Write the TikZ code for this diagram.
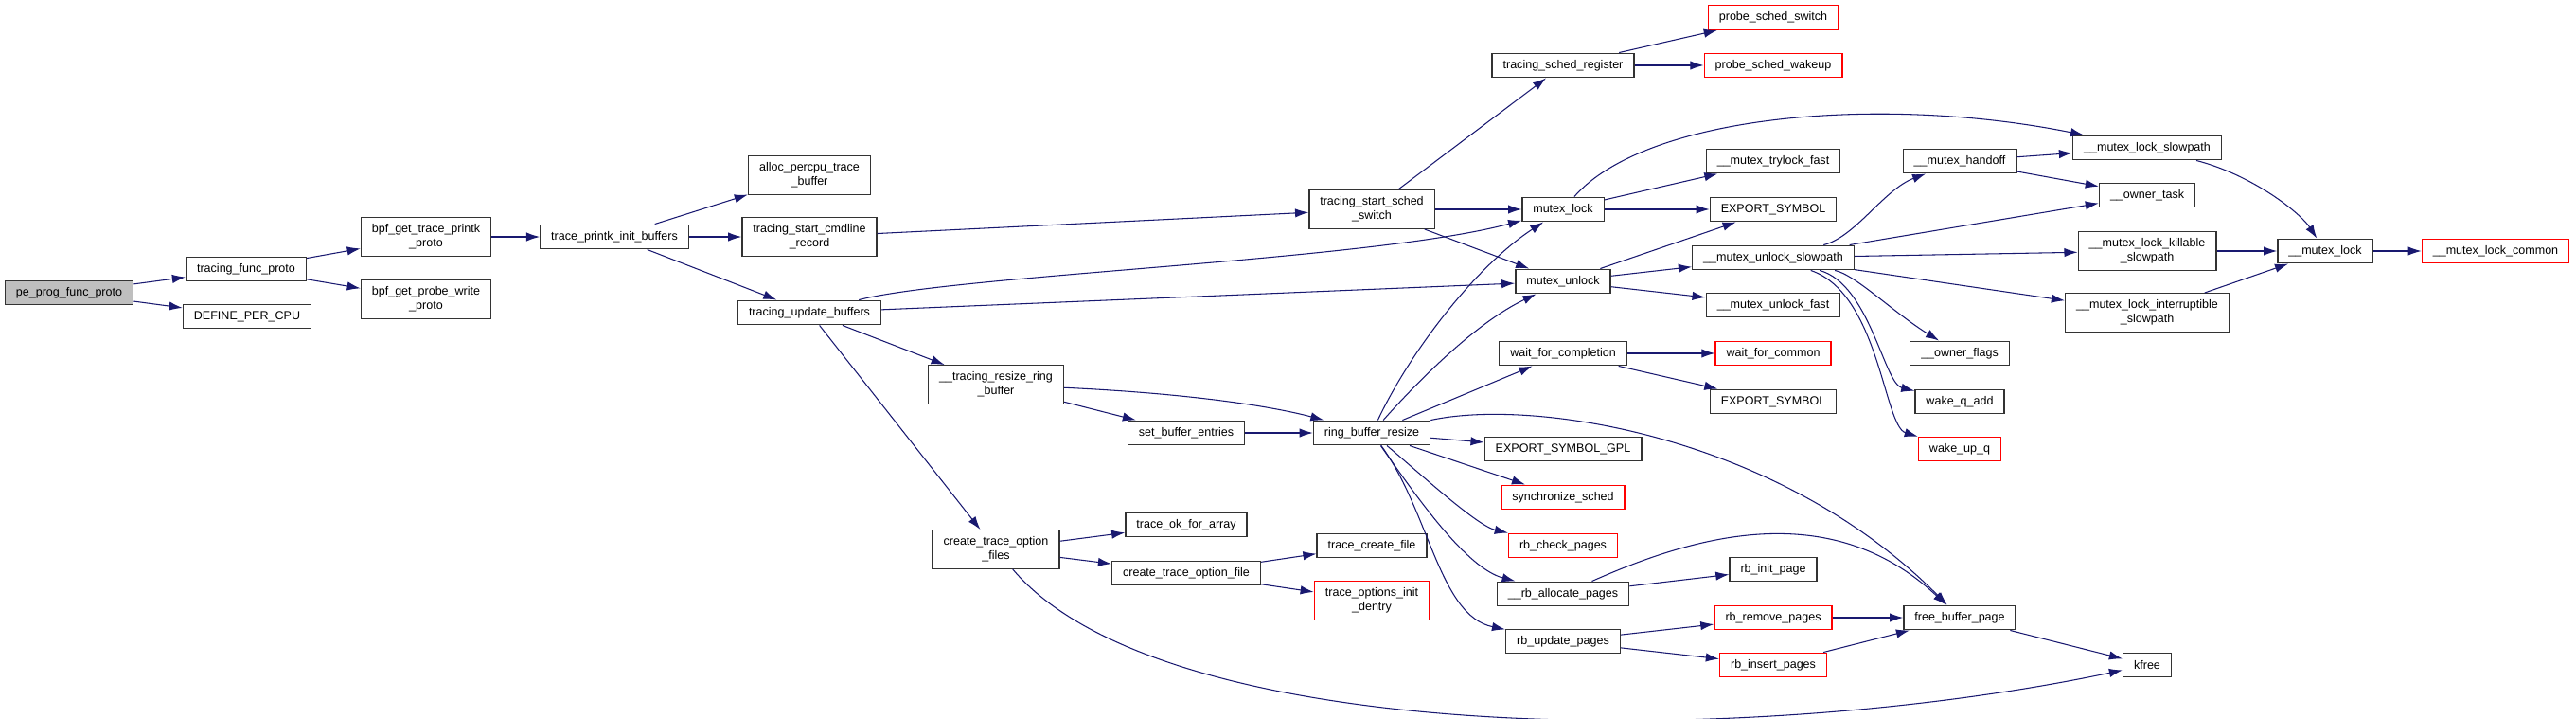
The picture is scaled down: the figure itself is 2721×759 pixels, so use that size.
\documentclass[tikz,border=0pt]{standalone}
\usepackage{fontspec}
\setmainfont{Liberation Sans}
\usetikzlibrary{arrows.meta}
\definecolor{edgeblue}{RGB}{25,25,112}
\newcommand\fnsize{\fontsize{10.7pt}{12.8pt}\selectfont}

\begin{document}
\begin{tikzpicture}[x=0.03cm, y=-0.03cm,
        fn/.style={rectangle, draw=black!80, line width=1.2pt, fill=white, font=\fnsize,
                   inner xsep=9.8pt, inner ysep=0pt, minimum height=21.8pt, align=center},
        two/.style={minimum height=34.6pt},
        redbox/.style={draw=red},
        root/.style={fill=black!25},
        call/.style={draw=edgeblue, line width=0.9pt, -{Latex[length=12pt,width=8pt]}}]
        \useasboundingbox (0,0) rectangle (2721,759);

        % Define nodes
        \node[fn, root]         (pe)    at (73,309)   {pe\_prog\_func\_proto};
        \node[fn]               (tfp)   at (260,284)  {tracing\_func\_proto};
        \node[fn]               (dpc)   at (261,334)  {DEFINE\_PER\_CPU};
        \node[fn, two]          (gtp)   at (450,250)  {bpf\_get\_trace\_printk\\\_proto};
        \node[fn, two]          (gpw)   at (450,316)  {bpf\_get\_probe\_write\\\_proto};
        \node[fn]               (tpib)  at (649,250)  {trace\_printk\_init\_buffers};
        \node[fn, two]          (apt)   at (855,185)  {alloc\_percpu\_trace\\\_buffer};
        \node[fn, two]          (tscr)  at (855,250)  {tracing\_start\_cmdline\\\_record};
        \node[fn]               (tub)   at (855,330)  {tracing\_update\_buffers};
        \node[fn, two]          (trrb)  at (1052,406) {\_\_tracing\_resize\_ring\\\_buffer};
        \node[fn, two]          (ctofs) at (1052,580) {create\_trace\_option\\\_files};
        \node[fn]               (sbe)   at (1253,457) {set\_buffer\_entries};
        \node[fn]               (tofa)  at (1253,554) {trace\_ok\_for\_array};
        \node[fn]               (ctof)  at (1253,605) {create\_trace\_option\_file};
        \node[fn, two]          (tsss)  at (1449,221) {tracing\_start\_sched\\\_switch};
        \node[fn]               (rbr)   at (1449,457) {ring\_buffer\_resize};
        \node[fn]               (tcf)   at (1449,576) {trace\_create\_file};
        \node[fn, two, redbox]  (toid)  at (1449,634) {trace\_options\_init\\\_dentry};
        \node[fn]               (tsr)   at (1651,69)  {tracing\_sched\_register};
        \node[fn]               (mlock) at (1651,221) {mutex\_lock};
        \node[fn]               (munlock) at (1651,297) {mutex\_unlock};
        \node[fn]               (wfc)   at (1651,373) {wait\_for\_completion};
        \node[fn]               (esgpl) at (1651,474) {EXPORT\_SYMBOL\_GPL};
        \node[fn, redbox]       (ss)    at (1651,525) {synchronize\_sched};
        \node[fn, redbox]       (rcp)   at (1651,576) {rb\_check\_pages};
        \node[fn]               (rap)   at (1651,627) {\_\_rb\_allocate\_pages};
        \node[fn]               (rup)   at (1651,677) {rb\_update\_pages};
        \node[fn, redbox]       (pss)   at (1873,18.5) {probe\_sched\_switch};
        \node[fn, redbox]       (psw)   at (1873,69)  {probe\_sched\_wakeup};
        \node[fn]               (mtf)   at (1873,170) {\_\_mutex\_trylock\_fast};
        \node[fn]               (esa)   at (1873,221) {EXPORT\_SYMBOL};
        \node[fn]               (mus)   at (1873,272) {\_\_mutex\_unlock\_slowpath};
        \node[fn]               (muf)   at (1873,322) {\_\_mutex\_unlock\_fast};
        \node[fn, redbox]       (wfcm)  at (1873,373) {wait\_for\_common};
        \node[fn]               (esb)   at (1873,424) {EXPORT\_SYMBOL};
        \node[fn]               (rip)   at (1873,601) {rb\_init\_page};
        \node[fn, redbox]       (rrp)   at (1873,652) {rb\_remove\_pages};
        \node[fn, redbox]       (rinp)  at (1873,702) {rb\_insert\_pages};
        \node[fn]               (mh)    at (2070,170) {\_\_mutex\_handoff};
        \node[fn]               (of)    at (2070,373) {\_\_owner\_flags};
        \node[fn]               (wqa)   at (2070,424) {wake\_q\_add};
        \node[fn, redbox]       (wuq)   at (2070,474) {wake\_up\_q};
        \node[fn]               (fbp)   at (2070,652) {free\_buffer\_page};
        \node[fn]               (mls)   at (2268,156) {\_\_mutex\_lock\_slowpath};
        \node[fn]               (ot)    at (2268,206) {\_\_owner\_task};
        \node[fn, two]          (mlk)   at (2268,265) {\_\_mutex\_lock\_killable\\\_slowpath};
        \node[fn, two]          (mli)   at (2268,330) {\_\_mutex\_lock\_interruptible\\\_slowpath};
        \node[fn]               (kf)    at (2268,702) {kfree};
        \node[fn]               (ml)    at (2456,265) {\_\_mutex\_lock};
        \node[fn, redbox]       (mlc)   at (2636,265) {\_\_mutex\_lock\_common};

        % Draw edges
        \draw[call] (pe) -- (tfp);
        \draw[call] (pe) -- (dpc);
        \draw[call] (tfp) -- (gtp);
        \draw[call] (tfp) -- (gpw);
        \draw[call] (gtp) -- (tpib);
        \draw[call] (tpib) -- (apt);
        \draw[call] (tpib) -- (tscr);
        \draw[call] (tpib) -- (tub);
        \draw[call] (tscr) -- (tsss);
        \draw[call] (tub) .. controls (1010,290) and (1450,275) .. (mlock);
        \draw[call] (tub) -- (munlock);
        \draw[call] (tub) -- (trrb);
        \draw[call] (tub) -- (ctofs);
        \draw[call] (tsss) -- (tsr);
        \draw[call] (tsss) -- (mlock);
        \draw[call] (tsss) -- (munlock);
        \draw[call] (tsr) -- (pss);
        \draw[call] (tsr) -- (psw);
        \draw[call] (mlock) .. controls (1740,120) and (1990,100) .. (mls);
        \draw[call] (mlock) -- (mtf);
        \draw[call] (mlock) -- (esa);
        \draw[call] (munlock) -- (esa);
        \draw[call] (munlock) -- (mus);
        \draw[call] (munlock) -- (muf);
        \draw[call] (mus) .. controls (1960,250) and (1990,200) .. (mh);
        \draw[call] (mus) -- (ot);
        \draw[call] (mus) -- (mlk);
        \draw[call] (mus) -- (mli);
        \draw[call] (mus) .. controls (1960,290) and (2000,330) .. (of);
        \draw[call] (mus) .. controls (1975,300) and (1990,405) .. (wqa);
        \draw[call] (mus) .. controls (1985,310) and (1990,450) .. (wuq);
        \draw[call] (mh) -- (mls);
        \draw[call] (mh) -- (ot);
        \draw[call] (mls) .. controls (2380,185) and (2430,225) .. (ml);
        \draw[call] (mlk) -- (ml);
        \draw[call] (mli) -- (ml);
        \draw[call] (ml) -- (mlc);
        \draw[call] (trrb) -- (sbe);
        \draw[call] (trrb) .. controls (1250,415) and (1340,428) .. (rbr);
        \draw[call] (sbe) -- (rbr);
        \draw[call] (rbr) .. controls (1490,370) and (1560,280) .. (mlock);
        \draw[call] (rbr) .. controls (1500,400) and (1560,340) .. (munlock);
        \draw[call] (rbr) -- (wfc);
        \draw[call] (rbr) .. controls (1620,420) and (1880,460) .. (fbp);
        \draw[call] (rbr) -- (esgpl);
        \draw[call] (rbr) -- (ss);
        \draw[call] (rbr) .. controls (1500,500) and (1560,555) .. (rcp);
        \draw[call] (rbr) .. controls (1500,530) and (1550,600) .. (rap);
        \draw[call] (rbr) .. controls (1510,540) and (1520,650) .. (rup);
        \draw[call] (wfc) -- (wfcm);
        \draw[call] (wfc) -- (esb);
        \draw[call] (rap) -- (rip);
        \draw[call] (rap) .. controls (1780,570) and (1930,520) .. (fbp);
        \draw[call] (rup) -- (rrp);
        \draw[call] (rup) -- (rinp);
        \draw[call] (rrp) -- (fbp);
        \draw[call] (rinp) -- (fbp);
        \draw[call] (fbp) -- (kf);
        \draw[call] (ctofs) -- (tofa);
        \draw[call] (ctofs) -- (ctof);
        \draw[call] (ctofs) .. controls (1230,790) and (1850,790) .. (kf);
        \draw[call] (ctof) -- (tcf);
        \draw[call] (ctof) -- (toid);
    \end{tikzpicture}
\end{document}
